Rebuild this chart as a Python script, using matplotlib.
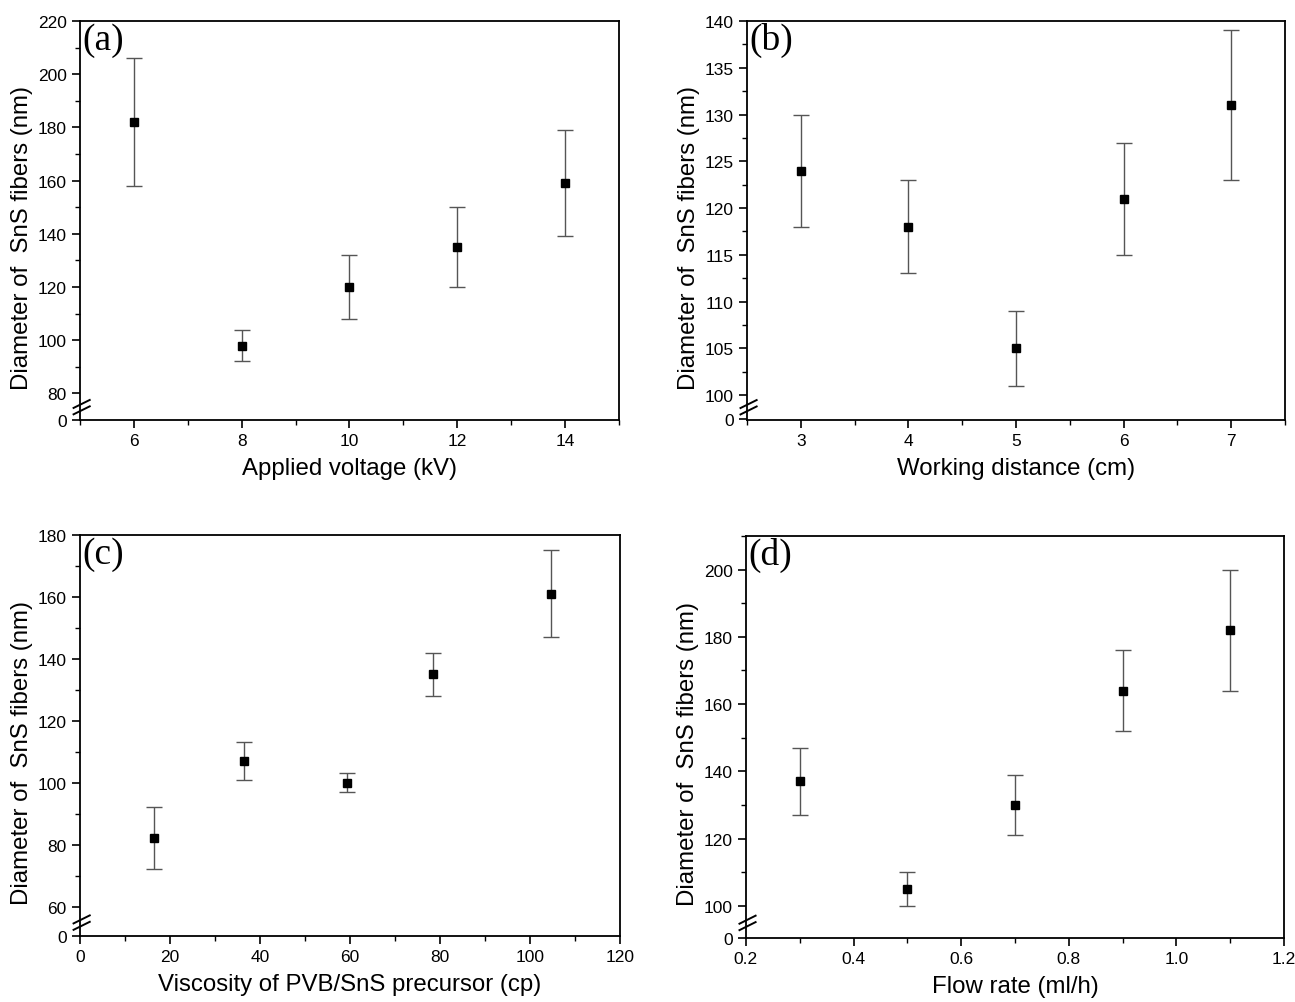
import numpy as np
import matplotlib.pyplot as plt
from matplotlib.ticker import FixedLocator

plt.rcParams['font.family'] = ['Liberation Sans', 'DejaVu Sans']

# (a) applied voltage
volt = [6, 8, 10, 12, 14]
diam_a = [182, 98, 120, 135, 159]
err_a = [24, 6, 12, 15, 20]

# (b) working distance
dist = [3, 4, 5, 6, 7]
diam_b = [124, 118, 105, 121, 131]
err_b = [6, 5, 4, 6, 8]

# (c) viscosity
visc = [16.5, 36.5, 59.3, 78.5, 104.7]
diam_c = [82, 107, 100, 135, 161]
err_c = [10, 6, 3, 7, 14]

# (d) flow rate
flow = [0.3, 0.5, 0.7, 0.9, 1.1]
diam_d = [137, 105, 130, 164, 182]
err_d = [10, 5, 9, 12, 18]

ylab = "Diameter of  SnS fibers (nm)"


def broken_axis(ax, brk, gap, first, top, step):
    # values below brk squeezed into a short strip so 0 still shows
    def fwd(y):
        y = np.asarray(y, dtype=float)
        return np.where(y >= brk, y, brk - gap + y * gap / brk)

    def inv(y):
        y = np.asarray(y, dtype=float)
        return np.where(y >= brk, y, (y - brk + gap) * brk / gap)

    ax.set_yscale('function', functions=(fwd, inv))
    ax.set_ylim(-0.1 * brk / gap, top)
    major = [0] + list(np.arange(first, top + 0.01, step))
    minor = list(np.arange(first - step / 2, top + 0.01, step / 2))
    minor = [m for m in minor if m > brk]
    ax.yaxis.set_major_locator(FixedLocator(major))
    ax.yaxis.set_minor_locator(FixedLocator(minor))
    # break marks on the left spine, placed in axes fraction
    yb = brk - gap * 0.5
    yf = ax.transAxes.inverted().transform(ax.transData.transform((ax.get_xlim()[0], yb)))[1]
    for dy in (-0.008, 0.008):
        ax.plot([-0.012, 0.018], [yf + dy - 0.01, yf + dy + 0.01],
                transform=ax.transAxes, color='black', lw=1.4, clip_on=False, zorder=5)


def style(ax, x, y, e, label, xlab, xlim, xmajor, xminor):
    ax.errorbar(x, y, yerr=e, fmt='s', color='black', ms=6,
                ecolor='#555555', elinewidth=1.0, capsize=6, capthick=1.0)
    ax.set_xlim(*xlim)
    ax.xaxis.set_major_locator(FixedLocator(xmajor))
    ax.xaxis.set_minor_locator(FixedLocator(xminor))
    for s in ax.spines.values():
        s.set_linewidth(1.3)
    ax.tick_params(which='major', direction='out', length=6, width=1.2, labelsize=12.5)
    ax.tick_params(which='minor', direction='out', length=3.5, width=1.0)
    ax.set_xlabel(xlab, fontsize=17.3, labelpad=6)
    ax.set_ylabel(ylab, fontsize=17.3)
    ax.yaxis.set_label_coords(-0.088, 0.46)
    ax.text(0.004, 0.997, label, transform=ax.transAxes, ha='left', va='top',
            fontsize=27, family=['Liberation Serif', 'DejaVu Serif'])


fig = plt.figure(figsize=(12.95, 10.03), dpi=100)

ax_a = fig.add_axes([0.0618, 0.580, 0.416, 0.398])
style(ax_a, volt, diam_a, err_a, '(a)', 'Applied voltage (kV)', (5, 15),
      [6, 8, 10, 12, 14], [5, 7, 9, 11, 13, 15])
broken_axis(ax_a, 75, 5, 80, 220, 20)

ax_b = fig.add_axes([0.5768, 0.580, 0.4155, 0.398])
style(ax_b, dist, diam_b, err_b, '(b)', 'Working distance (cm)', (2.5, 7.5),
      [3, 4, 5, 6, 7], [2.5, 3.5, 4.5, 5.5, 6.5, 7.5])
broken_axis(ax_b, 98.7, 1.3, 100, 140, 5)

ax_c = fig.add_axes([0.0618, 0.0658, 0.417, 0.3998])
style(ax_c, visc, diam_c, err_c, '(c)', 'Viscosity of PVB/SnS precursor (cp)', (0, 120),
      [0, 20, 40, 60, 80, 100, 120], [10, 30, 50, 70, 90, 110])
broken_axis(ax_c, 55, 4.4, 60, 180, 20)

ax_d = fig.add_axes([0.5760, 0.0638, 0.4155, 0.4008])
style(ax_d, flow, diam_d, err_d, '(d)', 'Flow rate (ml/h)', (0.2, 1.2),
      [0.2, 0.4, 0.6, 0.8, 1.0, 1.2], [0.3, 0.5, 0.7, 0.9, 1.1])
broken_axis(ax_d, 95, 4.5, 100, 210, 20)
ax_d.yaxis.set_major_locator(FixedLocator([0, 100, 120, 140, 160, 180, 200]))

fig.savefig('out.png', dpi=100)
